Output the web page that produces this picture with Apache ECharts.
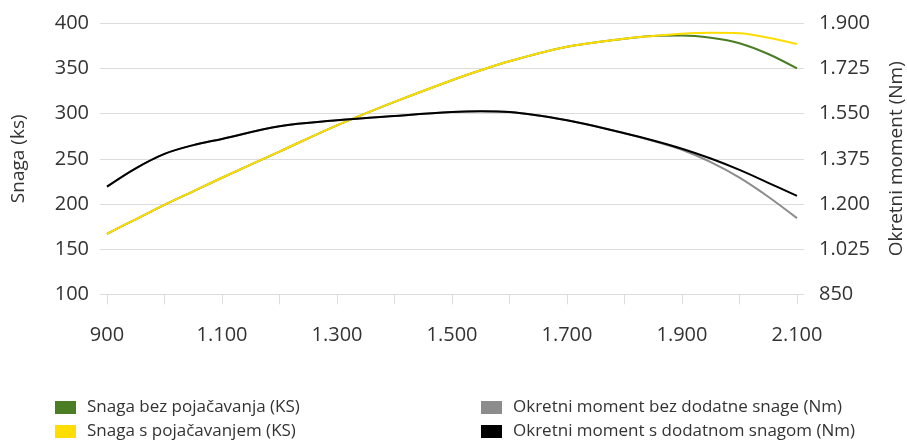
<!DOCTYPE html>
<html>
<head>
<meta charset="utf-8">
<script src="https://cdn.jsdelivr.net/npm/echarts@6/dist/echarts.min.js"></script>
<style>
html,body{margin:0;padding:0;background:#fff;}
#chart{width:907px;height:443px;}
</style>
</head>
<body>
<div id="chart"></div>
<script>
// Data
const rpm = [900, 950, 1000, 1050, 1100, 1200, 1300, 1400, 1500, 1550, 1600, 1700, 1800, 1850, 1900, 1950, 2000, 2050, 2100];
const powerNoBoost = [167, 183, 199, 214, 229, 258, 287, 313, 337, 348, 358, 374, 383, 386, 386.5, 384, 378, 366, 350];
const powerBoost   = [167, 183, 199, 214, 229, 258, 287, 313, 337, 348, 358, 374, 383, 386, 388.5, 389.5, 389, 384, 377];
const torqueNoBoost = [1267, 1338, 1394, 1428, 1452, 1501, 1524, 1541, 1556, 1559, 1556, 1524, 1474, 1444, 1410, 1362, 1302, 1228, 1145];
const torqueBoost   = [1267, 1338, 1394, 1428, 1452, 1501, 1524, 1541, 1556, 1559, 1556, 1524, 1474, 1446, 1414, 1376, 1332, 1282, 1231];
const xTicks = [900, 1000, 1100, 1200, 1300, 1400, 1500, 1600, 1700, 1800, 1900, 2000, 2100];
const xLabels = [900, 1100, 1300, 1500, 1700, 1900, 2100];
const seriesNames = ['Snaga bez pojačavanja (KS)', 'Snaga s pojačavanjem (KS)', 'Okretni moment bez dodatne snage (Nm)', 'Okretni moment s dodatnom snagom (Nm)'];
const leftAxisName = 'Snaga (ks)';
const rightAxisName = 'Okretni moment (Nm)';

const FONT = '"Open Sans", "Noto Sans", sans-serif';
const TXT = '#333';
const GRIDC = '#dcdcdc';
const colors = ['#4b7d24', '#ffdd00', '#8c8c8c', '#000000'];
const xPad = 12.2; // gridlines extend a little beyond the data range

function fmt(v) {
  v = Math.round(v);
  if (v >= 1000) {
    const s = String(v);
    return s.slice(0, s.length - 3) + '.' + s.slice(s.length - 3);
  }
  return String(v);
}
function pairs(vals) { return rpm.map((r, i) => [r, vals[i]]); }

function legendItem(i, left, top) {
  return {left: left, top: top, orient: 'vertical', itemWidth: 21, itemHeight: 13,
    icon: 'rect', selectedMode: false,
    textStyle: {fontSize: 17, color: TXT, fontFamily: FONT, padding: [0, 0, 0, 6]},
    data: [seriesNames[i]]};
}

const chart = echarts.init(document.getElementById('chart'), null, {renderer: 'canvas'});
const option = {
  animation: false,
  backgroundColor: '#fff',
  textStyle: {fontFamily: FONT},
  grid: {left: 100, right: 103, top: 23.3, height: 271, containLabel: false, outerBoundsMode: 'none'},
  xAxis: {type: 'value', min: xTicks[0] - xPad, max: xTicks[xTicks.length - 1] + xPad,
    axisLine: {show: false},
    axisTick: {show: true, length: 10, customValues: xTicks, lineStyle: {color: GRIDC, width: 1}},
    splitLine: {show: false},
    axisLabel: {margin: 31, fontSize: 20, color: TXT, fontFamily: FONT, customValues: xLabels,
      formatter: v => fmt(v)}
  },
  yAxis: [
    {type: 'value', position: 'left', min: 100, max: 400, interval: 50,
      name: leftAxisName, nameLocation: 'middle', nameGap: 72, nameRotate: 90,
      nameTextStyle: {fontSize: 19, color: TXT, fontFamily: FONT},
      axisLine: {show: false}, axisTick: {show: false},
      axisLabel: {margin: 11, fontSize: 20, color: TXT, fontFamily: FONT},
      splitLine: {show: true, lineStyle: {color: GRIDC, width: 1.2}}},
    {type: 'value', position: 'right', min: 850, max: 1900, interval: 175,
      name: rightAxisName, nameLocation: 'middle', nameGap: 83, nameRotate: 90,
      nameTextStyle: {fontSize: 19, color: TXT, fontFamily: FONT},
      axisLine: {show: false}, axisTick: {show: false},
      axisLabel: {margin: 15, fontSize: 20, color: TXT, fontFamily: FONT, formatter: v => fmt(v)},
      splitLine: {show: false}}
  ],
  legend: [
    legendItem(0, 50, 394),
    legendItem(1, 50, 418),
    legendItem(2, 476, 394),
    legendItem(3, 476, 418)
  ],
  series: [
    {name: seriesNames[0], type: 'line', yAxisIndex: 0, data: pairs(powerNoBoost),
      smooth: 0.35, showSymbol: false, color: colors[0], lineStyle: {width: 2, color: colors[0]}},
    {name: seriesNames[1], type: 'line', yAxisIndex: 0, data: pairs(powerBoost),
      smooth: 0.35, showSymbol: false, color: colors[1], lineStyle: {width: 2, color: colors[1]}},
    {name: seriesNames[2], type: 'line', yAxisIndex: 1, data: pairs(torqueNoBoost),
      smooth: 0.35, showSymbol: false, color: colors[2], lineStyle: {width: 2, color: colors[2]}},
    {name: seriesNames[3], type: 'line', yAxisIndex: 1, data: pairs(torqueBoost),
      smooth: 0.35, showSymbol: false, color: colors[3], lineStyle: {width: 2, color: colors[3]}}
  ]
};
chart.setOption(option);
</script>
</body>
</html>
